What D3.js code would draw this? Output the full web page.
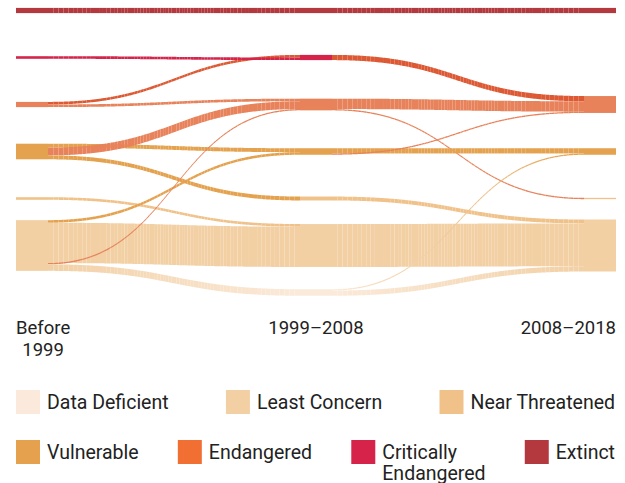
<!DOCTYPE html>
<html>
<head>
<meta charset="utf-8">
<script src="https://cdn.jsdelivr.net/npm/d3@7"></script>
<style>
	body { margin: 0; background: #fff; }
	svg { display: block; font-family: Roboto, sans-serif; }
</style>
</head>
<body>
<svg id="chart" width="625" height="483"></svg>
<script>
const periods = ['Before 1999', '1999–2008', '2008–2018'];
const statuses = [
	'Extinct',
	'Critically Endangered',
	'Endangered',
	'Vulnerable',
	'Near Threatened',
	'Least Concern',
	'Data Deficient'
];
const legendColors = ['#b3393f', '#d6234a', '#f26f33', '#e5a14d', '#f0c28a', '#f3d0a3', '#fbeadb'];
const flowColors = ['#b3393f', '#d6234a', '#e7825a', '#e4a14e', '#f0c28a', '#f2d0a4', '#fbeadb'];
const legendRows = [
	['Data Deficient', 'Least Concern', 'Near Threatened'],
	['Vulnerable', 'Endangered', 'Critically Endangered', 'Extinct']
];

// [from, to, species]
const firstPeriod = [
	['Extinct', 'Extinct', 4],
	['Endangered', 'Critically Endangered', 2],
	['Critically Endangered', 'Critically Endangered', 2],
	['Endangered', 'Endangered', 2],
	['Vulnerable', 'Vulnerable', 3],
	['Vulnerable', 'Endangered', 6],
	['Vulnerable', 'Near Threatened', 3],
	['Near Threatened', 'Least Concern', 2],
	['Least Concern', 'Vulnerable', 2],
	['Least Concern', 'Least Concern', 31],
	['Least Concern', 'Endangered', 1],
	['Least Concern', 'Data Deficient', 5]
];
const secondPeriod = [
	['Extinct', 'Extinct', 4],
	['Critically Endangered', 'Endangered', 4],
	['Endangered', 'Endangered', 8],
	['Endangered', 'Near Threatened', 1],
	['Vulnerable', 'Vulnerable', 4],
	['Vulnerable', 'Endangered', 1],
	['Near Threatened', 'Least Concern', 3],
	['Least Concern', 'Least Concern', 33],
	['Data Deficient', 'Vulnerable', 1],
	['Data Deficient', 'Least Concern', 4]
];

const NODE_W = 32;
const SLICES = 70;
const $svg = d3.select('#chart');

const x = d3.scalePoint().domain(periods).range([16, 616 - NODE_W]);
const y = d3.scalePoint().domain(statuses).range([10.5, 292.5]);
const thick = d3.scaleLinear().domain([0, 10]).range([0, 13]);
const color = d3.scaleOrdinal().domain(statuses).range(flowColors);
const legendColor = d3.scaleOrdinal().domain(statuses).range(legendColors);

const transitions = [firstPeriod, secondPeriod];

// node sizes per column: biggest of in / out
const nodes = [];
periods.forEach((p, c) => {
	statuses.forEach(s => {
		const out = c < 2 ? d3.sum(transitions[c].filter(d => d[0] === s), d => d[2]) : 0;
		const inn = c > 0 ? d3.sum(transitions[c - 1].filter(d => d[1] === s), d => d[2]) : 0;
		const value = Math.max(out, inn);
		if (value > 0) nodes.push({ period: p, col: c, status: s, value });
	});
});
nodes.forEach(n => {
	n.y0 = y(n.status) - thick(n.value) / 2;
	n.outY = n.y0;
	n.inY = n.y0;
});
const findNode = (c, s) => nodes.find(n => n.col === c && n.status === s);

const links = [];
transitions.forEach((list, c) => {
	list.forEach(([from, to, value]) => {
		const src = findNode(c, from);
		const tgt = findNode(c + 1, to);
		const t = thick(value);
		links.push({ from, to, value, t, x0: x(periods[c]) + NODE_W, x1: x(periods[c + 1]), y0: src.outY, y1: tgt.inY });
		src.outY += t;
		tgt.inY += t;
	});
});

// links take the colour of their more threatened end,
// critically endangered moves are drawn in a deep endangered orange,
// data deficient moves fade between both ends
function linkFill(l) {
	if (l.from === 'Data Deficient' || l.to === 'Data Deficient') {
		return d3.interpolateRgb(color(l.from), color(l.to));
	}
	const severe = statuses.indexOf(l.from) <= statuses.indexOf(l.to) ? l.from : l.to;
	let c = color(severe);
	if (severe === 'Critically Endangered' && l.from !== l.to) {
		c = d3.color(d3.interpolateRgb(legendColor('Endangered'), color(severe))(0.2)).darker(0.2).formatHex();
	}
	return () => c;
}

// point on the horizontal link curve
function curvePoint(l, u) {
	const xs = l.x0 + (l.x1 - l.x0) * (1.5 * u * (1 - u) + u * u * u);
	const ys = l.y0 + (l.y1 - l.y0) * (3 * u * u - 2 * u * u * u);
	return { x: xs, y: ys };
}

const area = d3.area()
	.x(d => d.x)
	.y0(d => d.y)
	.y1(d => d.y + d.t);

const $links = $svg.append('g').attr('class', 'links');
links.forEach(l => {
	const fill = linkFill(l);
	const slices = d3.range(SLICES).map(i => {
		const pts = d3.range(5).map(k => {
			const p = curvePoint(l, (i + k / 4) / SLICES);
			p.t = l.t;
			return p;
		});
		return { pts, fill: fill((pts[2].x - l.x0) / (l.x1 - l.x0)) };
	});
	$links.append('g')
		.selectAll('path')
		.data(slices)
		.join('path')
		.attr('d', d => area(d.pts))
		.attr('fill', d => d.fill);
});

$svg.append('g')
	.attr('class', 'nodes')
	.selectAll('rect')
	.data(nodes)
	.join('rect')
	.attr('x', d => x(d.period))
	.attr('y', d => d.y0)
	.attr('width', NODE_W)
	.attr('height', d => thick(d.value))
	.attr('fill', d => color(d.status));

// simple word wrap
function wrap(words, maxW, measure) {
	const lines = [];
	let line = '';
	words.split(' ').forEach(w => {
		const test = line ? `${line} ${w}` : w;
		if (line && measure(test) > maxW) {
			lines.push(line);
			line = w;
		} else line = test;
	});
	lines.push(line);
	return lines;
}

const $probe = $svg.append('text').attr('visibility', 'hidden');
const measurer = size => s => $probe.attr('font-size', size).text(s).node().getComputedTextLength();
const measureAxis = measurer(18.5);
const measureKey = measurer(19.5);

// period labels
periods.forEach((p, i) => {
	const lines = wrap(p, 70, measureAxis);
	const w = d3.max(lines, measureAxis);
	let cx = x(p) + NODE_W / 2;
	if (i === 0) cx = x(p) + w / 2;
	if (i === periods.length - 1) cx = x(p) + NODE_W - w / 2;
	$svg.append('text')
		.attr('font-size', 18.5)
		.attr('fill', '#222')
		.attr('text-anchor', 'middle')
		.selectAll('tspan')
		.data(lines)
		.join('tspan')
		.attr('x', cx)
		.attr('y', (d, k) => 334 + k * 22)
		.text(d => d);
});

// legend
const SW = 24;
legendRows.forEach((row, r) => {
	const items = row.map(s => {
		const lines = wrap(s, 150, measureKey);
		return { s, lines, w: SW + 8 + d3.max(lines, measureKey) };
	});
	const gap = (600 - d3.sum(items, d => d.w)) / (items.length - 1);
	let cx = 16;
	const top = 390 + r * 50;
	items.forEach(it => {
		const g = $svg.append('g').attr('transform', `translate(${cx},${top})`);
		g.append('rect').attr('width', SW).attr('height', SW).attr('fill', legendColor(it.s));
		g.append('text')
			.attr('font-size', 19.5)
			.attr('fill', '#222')
			.selectAll('tspan')
			.data(it.lines)
			.join('tspan')
			.attr('x', SW + 7)
			.attr('y', (d, k) => 18.5 + k * 21)
			.text(d => d);
		cx += it.w + gap;
	});
});
$probe.remove();
</script>
</body>
</html>
